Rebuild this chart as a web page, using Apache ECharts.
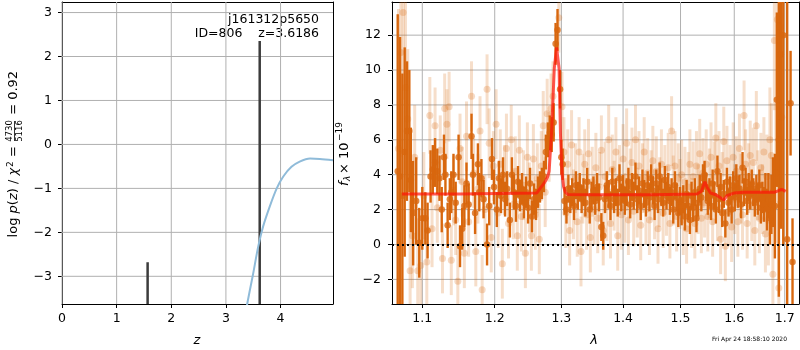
<!DOCTYPE html>
<html lang="en" style="height: 100%">
<head>
  <meta charset="utf-8" />
</head>
<body style="height: 100%; margin: 0">
  <div id="container" style="width: 800px; height: 350px;"></div>
  <script src="https://cdn.jsdelivr.net/npm/echarts@6/dist/echarts.min.js"></script>
  <script>
    // left panel: log p(z)
    var pzZ = [3.30, 3.39, 3.50, 3.59, 3.68, 3.80, 3.93, 4.05, 4.20, 4.35, 4.54, 4.72, 4.96];
    var pzLog = [-4.3, -3.63, -2.93, -2.33, -1.87, -1.42, -1.0, -0.73, -0.51, -0.39, -0.32, -0.33, -0.36];
    var peakZ = [1.567, 3.6186];
    var peakLogP = [-2.68, 2.35];
    var zTicks = [0, 1, 2, 3, 4];
    var pTicks = [-3, -2, -1, 0, 1, 2, 3];

    // right panel: spectrum [lambda, flux, err]
    var darkSpec = [
      [1.068, 4.2, 9], [1.071, 3.9, 8], [1.074, 2.8, 7], [1.077, 5.3, 6], [1.080, 6.5, 4],
      [1.083, 6.5, 3.5], [1.085, 3.7, 3], [1.088, 1.8, 3], [1.092, 2.5, 2.5], [1.096, 0.1, 2],
      [1.100, 1.5, 1.8], [1.104, 1.5, 1.5], [1.107, 0.8, 1.6], [1.111, 3.9, 1.5], [1.114, 4.3, 1.4],
      [1.117, 4.7, 1.4], [1.120, 4.2, 1.3], [1.123, 3.8, 1.3], [1.126, 2.0, 1.3], [1.129, 5.0, 1.3],
      [1.131, 4.0, 1.2], [1.134, 1.1, 1.3], [1.137, 2.6, 1.2], [1.139, 3.0, 1.2], [1.142, 4.0, 1.2],
      [1.145, 2.4, 1.2], [1.149, 5.0, 1.3], [1.151, -0.1, 1.2], [1.154, 0.9, 1.2], [1.157, 2.2, 1.2],
      [1.160, 3.5, 1.2], [1.163, 2.3, 1.2], [1.167, 6.2, 1.3], [1.169, 4.0, 1.2], [1.172, 1.8, 1.2],
      [1.176, 4.6, 1.2], [1.178, 3.0, 1.1], [1.181, 3.8, 1.1], [1.184, 2.6, 1.1], [1.189, 0.0, 1.2],
      [1.192, 2.2, 1.1], [1.196, 4.9, 1.2], [1.199, 3.3, 1.0], [1.203, 2.0, 1.0], [1.206, 3.8, 1.0],
      [1.209, 2.8, 1.0], [1.212, 4.0, 1.0], [1.215, 2.6, 1.0], [1.218, 3.2, 1.0], [1.222, 1.4, 1.0],
      [1.225, 4.0, 1.0], [1.228, 3.0, 1.0], [1.231, 2.2, 0.9], [1.234, 3.6, 0.9], [1.237, 2.8, 0.9],
      [1.240, 3.2, 0.9], [1.243, 2.4, 0.9], [1.246, 3.0, 0.9], [1.249, 2.1, 0.9], [1.252, 3.5, 0.9],
      [1.255, 1.6, 0.9], [1.258, 2.6, 0.9], [1.261, 2.3, 0.9], [1.264, 3.0, 0.9], [1.267, 3.3, 0.9],
      [1.270, 3.5, 0.9], [1.273, 3.9, 0.9], [1.276, 5.3, 1.0], [1.279, 6.0, 1.0], [1.282, 6.4, 1.0],
      [1.285, 6.3, 1.0], [1.288, 7.0, 1.1], [1.291, 11.5, 1.2], [1.294, 12.3, 1.2], [1.298, 8.9, 1.1],
      [1.300, 5.0, 1.0], [1.302, 4.6, 0.9], [1.305, 2.5, 0.8], [1.308, 2.0, 0.8], [1.311, 3.2, 0.8],
      [1.314, 2.6, 0.8], [1.317, 3.0, 0.8], [1.320, 2.2, 0.8], [1.323, 3.4, 0.8], [1.326, 2.8, 0.8],
      [1.329, 3.3, 0.8], [1.332, 2.6, 0.8], [1.335, 3.0, 0.8], [1.338, 2.4, 0.8], [1.341, 3.6, 0.8],
      [1.345, 2.0, 0.8], [1.348, 2.8, 0.8], [1.351, 3.1, 0.8], [1.354, 2.5, 0.8], [1.357, 3.3, 0.8],
      [1.360, 2.7, 0.8], [1.364, 1.0, 0.8], [1.367, 0.5, 0.8], [1.370, 2.6, 0.8], [1.373, 3.4, 0.8],
      [1.376, 2.9, 0.8], [1.379, 2.2, 0.8], [1.382, 3.6, 0.8], [1.385, 2.6, 0.8], [1.388, 3.0, 0.8],
      [1.391, 2.4, 0.8], [1.394, 3.8, 0.8], [1.397, 2.7, 0.8], [1.400, 3.2, 0.8], [1.403, 2.5, 0.8],
      [1.406, 3.0, 0.8], [1.409, 3.6, 0.8], [1.412, 2.3, 0.8], [1.415, 3.3, 0.8], [1.418, 2.8, 0.8],
      [1.421, 3.9, 0.8], [1.424, 2.6, 0.8], [1.427, 3.1, 0.8], [1.430, 2.2, 0.8], [1.433, 3.5, 0.8],
      [1.436, 2.9, 0.8], [1.439, 2.4, 0.8], [1.442, 3.4, 0.8], [1.445, 2.7, 0.8], [1.448, 3.8, 0.8],
      [1.451, 3.1, 0.8], [1.454, 2.2, 0.8], [1.457, 3.5, 0.8], [1.460, 2.6, 0.8], [1.463, 3.9, 0.8],
      [1.466, 3.0, 0.8], [1.469, 2.4, 0.8], [1.472, 3.7, 0.8], [1.475, 2.8, 0.8], [1.478, 3.3, 0.8],
      [1.481, 2.5, 0.8], [1.484, 3.0, 0.8], [1.487, 2.0, 0.8], [1.490, 3.4, 0.8], [1.493, 2.7, 0.8],
      [1.496, 1.8, 0.8], [1.499, 2.5, 0.8], [1.502, 1.9, 0.8], [1.505, 2.6, 0.8], [1.508, 1.6, 0.8],
      [1.511, 2.9, 0.8], [1.514, 2.2, 0.8], [1.517, 1.4, 0.8], [1.520, 2.8, 0.8], [1.523, 2.1, 0.8],
      [1.526, 3.0, 0.8], [1.529, 1.5, 0.8], [1.532, 2.4, 0.8], [1.535, 3.2, 0.8], [1.538, 2.7, 0.8],
      [1.541, 3.8, 0.8], [1.544, 4.0, 0.8], [1.547, 3.3, 0.8], [1.550, 2.5, 0.8], [1.553, 3.0, 0.8],
      [1.556, 2.2, 0.8], [1.559, 3.5, 0.8], [1.562, 2.8, 0.8], [1.565, 2.0, 0.8], [1.568, 4.2, 0.9],
      [1.571, 2.6, 0.8], [1.574, 3.3, 0.8], [1.577, 1.8, 0.8], [1.580, 2.9, 0.8], [1.583, 1.2, 0.8],
      [1.586, 3.6, 0.8], [1.589, 2.4, 0.8], [1.592, 3.1, 0.8], [1.595, 2.0, 0.8], [1.598, 3.4, 0.8],
      [1.601, 2.7, 0.8], [1.604, 3.8, 0.8], [1.607, 2.9, 0.8], [1.610, 3.2, 0.8], [1.613, 2.3, 0.8],
      [1.616, 4.4, 0.9], [1.619, 3.0, 0.8], [1.622, 3.6, 0.8], [1.625, 2.5, 0.8], [1.628, 3.3, 0.8],
      [1.631, 2.8, 0.8], [1.634, 3.5, 0.8], [1.637, 3.0, 0.8], [1.640, 2.4, 0.8], [1.643, 3.2, 0.8],
      [1.646, 2.6, 0.9], [1.649, 3.4, 0.9], [1.652, 2.1, 0.9], [1.655, 2.7, 0.9], [1.658, 2.3, 1.0],
      [1.661, 3.0, 1.1], [1.664, 2.0, 1.2], [1.667, 2.8, 1.3], [1.670, 1.5, 1.5], [1.673, 2.3, 1.7],
      [1.676, 3.0, 2.0], [1.680, 2.2, 3], [1.684, 8.3, 5], [1.688, 6.0, 9], [1.692, 10.9, 10],
      [1.697, 12.0, 12], [1.705, 0.3, 14], [1.712, 8.1, 3], [1.716, -1.0, 2.5]
    ];

    var lightSpec = [
      [1.069, 5.5, 8], [1.072, 11.0, 6], [1.075, 13.3, 5], [1.078, 9.0, 5], [1.081, 7.2, 4],
      [1.084, -1.5, 4], [1.087, 0.5, 3], [1.090, 5.0, 3], [1.094, -1.5, 3], [1.098, -1.2, 2.5],
      [1.102, 2.8, 2.5], [1.106, -1.0, 2.5], [1.110, 7.4, 2.2], [1.113, 0.9, 2.2], [1.117, 6.8, 2.2],
      [1.120, 2.1, 2], [1.124, 5.4, 2], [1.127, -0.8, 2], [1.130, 7.8, 2], [1.133, 6.9, 2],
      [1.136, 7.9, 2], [1.139, -0.9, 2], [1.142, 3.1, 2], [1.145, 1.4, 2], [1.148, -2.1, 2],
      [1.151, 5.5, 2], [1.154, 3.6, 2], [1.157, -0.5, 2], [1.160, 6.2, 2], [1.163, 1.3, 2],
      [1.167, 8.5, 2], [1.170, 4.1, 2], [1.173, -0.4, 2], [1.176, 3.2, 2], [1.179, 6.5, 2],
      [1.182, -2.6, 2], [1.186, 2.0, 2], [1.189, 8.9, 2], [1.192, 5.8, 2], [1.195, 0.4, 2],
      [1.198, 4.5, 2], [1.202, 6.9, 2], [1.205, 1.8, 2], [1.208, 4.6, 2], [1.211, -1.1, 2],
      [1.214, 3.7, 2], [1.217, 5.5, 2], [1.220, 1.2, 2], [1.224, 6.0, 2], [1.227, 2.3, 2],
      [1.230, 4.2, 2], [1.233, 0.5, 2], [1.236, 5.4, 2], [1.239, 1.6, 2], [1.242, 3.4, 2],
      [1.245, -0.5, 2], [1.248, 5.0, 2], [1.251, 2.7, 2], [1.254, 0.5, 2], [1.257, 4.9, 2],
      [1.260, 1.7, 2], [1.263, 3.8, 2], [1.266, 0.3, 2], [1.269, 4.5, 2], [1.272, 6.8, 2],
      [1.275, 3.0, 2], [1.278, 7.5, 2], [1.281, 5.6, 2], [1.284, 7.8, 2], [1.287, 8.5, 2],
      [1.296, 13.0, 2], [1.301, 7.9, 2], [1.304, 5.3, 2], [1.307, 1.8, 2], [1.310, 4.6, 2],
      [1.313, 0.8, 2], [1.316, 5.7, 2], [1.319, 2.3, 2], [1.322, 3.8, 2], [1.325, 1.3, 2],
      [1.328, 5.3, 2], [1.331, -0.4, 2], [1.334, 3.2, 2], [1.337, 4.6, 2], [1.340, 1.7, 2],
      [1.343, 5.2, 2], [1.346, 0.4, 2], [1.349, 3.6, 2], [1.352, 2.0, 2], [1.355, 4.4, 2],
      [1.358, 1.5, 2], [1.361, 3.3, 2], [1.364, 5.4, 2], [1.367, 0.8, 2], [1.370, 3.9, 2],
      [1.373, 2.2, 2], [1.376, 6.0, 2], [1.379, 1.2, 2], [1.382, 4.3, 2], [1.385, 2.8, 2],
      [1.388, 5.3, 2], [1.391, 0.5, 2], [1.394, 3.7, 2], [1.397, 1.7, 2], [1.400, 4.9, 2],
      [1.403, 2.1, 2], [1.406, 5.8, 2], [1.409, 1.4, 2], [1.412, 3.5, 2], [1.415, 4.7, 2],
      [1.418, 1.9, 2], [1.421, 6.0, 2], [1.424, 2.4, 2], [1.427, 4.5, 2], [1.430, 1.1, 2],
      [1.433, 3.8, 2], [1.436, 5.3, 2], [1.439, 2.0, 2], [1.442, 4.1, 2], [1.445, 1.4, 2],
      [1.448, 3.4, 2], [1.451, 4.8, 2], [1.454, 2.3, 2], [1.457, 4.2, 2], [1.460, 0.9, 2],
      [1.463, 3.0, 2], [1.466, 4.6, 2], [1.469, 1.8, 2], [1.472, 3.7, 2], [1.475, 2.5, 2],
      [1.478, 4.4, 2], [1.481, 1.2, 2], [1.484, 6.5, 2], [1.487, 3.1, 2], [1.490, 4.5, 2],
      [1.493, 1.6, 2], [1.496, 3.8, 2], [1.499, 2.9, 2], [1.502, 4.0, 2], [1.505, 1.4, 2],
      [1.508, 3.6, 2], [1.511, 0.9, 2], [1.514, 3.3, 2], [1.517, 4.6, 2], [1.520, 1.8, 2],
      [1.523, 3.9, 2], [1.526, 1.2, 2], [1.529, 4.5, 2], [1.532, 2.6, 2], [1.535, 5.2, 2],
      [1.538, 1.5, 2], [1.541, 4.1, 2], [1.544, 2.4, 2], [1.547, 4.6, 2], [1.550, 1.6, 2],
      [1.553, 3.5, 2], [1.556, 5.0, 2], [1.559, 1.3, 2], [1.562, 3.9, 2], [1.565, 6.1, 2],
      [1.568, 2.2, 2], [1.571, 4.5, 2], [1.574, 0.3, 2], [1.577, 3.3, 2], [1.580, 5.9, 2],
      [1.583, -0.1, 2], [1.586, 4.8, 2], [1.589, 1.9, 2], [1.592, 3.7, 2], [1.595, 1.0, 2],
      [1.598, 5.0, 2], [1.601, 2.6, 2], [1.604, 4.2, 2], [1.607, 1.3, 2], [1.610, 5.5, 2],
      [1.613, 3.2, 2], [1.616, 1.7, 2], [1.619, 7.4, 2], [1.622, 4.6, 2], [1.625, 1.2, 2],
      [1.628, 3.8, 2], [1.631, 5.1, 2], [1.634, 2.2, 2], [1.637, 4.7, 2], [1.640, 0.8, 2],
      [1.643, 6.8, 2], [1.646, 3.4, 2], [1.649, 1.5, 2], [1.652, 4.4, 2], [1.655, 2.6, 2],
      [1.658, 5.3, 2], [1.661, 0.6, 2.2], [1.664, 3.9, 2.4], [1.667, 1.4, 2.6], [1.670, 6.0, 3],
      [1.673, 5.1, 3], [1.676, -1.7, 3], [1.679, 11.7, 4], [1.682, 4.1, 4], [1.685, 12.9, 5],
      [1.688, -2.5, 5], [1.691, 12.5, 6], [1.694, 7.3, 6]
    ];

    var modelLam = [1.0736, 1.15, 1.262, 1.267, 1.272, 1.276, 1.279, 1.281, 1.2846, 1.289, 1.2925,
      1.2964, 1.2986, 1.301, 1.3035, 1.306, 1.31, 1.35, 1.45, 1.53, 1.538, 1.5445, 1.549, 1.555,
      1.565, 1.5806, 1.586, 1.5995, 1.62, 1.68, 1.69, 1.695, 1.702];
    var modelFlux = [2.9, 2.9, 2.95, 3.2, 3.45, 3.67, 3.9, 4.2, 6.3, 10.1, 11.3,
      10.1, 6.3, 4.07, 3.3, 3.0, 2.87, 2.85, 2.85, 2.9, 3.05, 3.6, 3.25, 2.95,
      2.85, 2.55, 2.8, 2.95, 3.0, 3.0, 3.12, 3.15, 3.05];
    var lamTicks = [1.1, 1.2, 1.3, 1.4, 1.5, 1.6, 1.7];
    var fluxTicks = [-2, 0, 2, 4, 6, 8, 10, 12];

    var FONT = 'DejaVu Sans';
    var ORANGE = '#d8670e';
    var GRIDC = '#b0b0b0';

    var dom = document.getElementById('container');
    var myChart = echarts.init(dom, null, { renderer: 'canvas' });

    function minus(v) {
      return String(v).replace('-', '\u2212');
    }

    function axisCommon(ticks, fmt) {
      return {
        axisLine: { show: true, onZero: false, lineStyle: { color: '#000', width: 1 } },
        axisTick: { show: true, length: 4, customValues: ticks, lineStyle: { color: '#000', width: 1 } },
        axisLabel: { customValues: ticks, color: '#000', fontFamily: FONT, fontSize: 12.5, formatter: fmt },
        splitLine: { show: false }
      };
    }

    // frame-only axis for the top / right edge of a panel
    function frameAxis(type, gridIndex, position, min, max) {
      return {
        type: type, gridIndex: gridIndex, position: position, min: min, max: max,
        axisLine: { show: true, onZero: false, lineStyle: { color: '#000', width: 1 } },
        axisTick: { show: false }, axisLabel: { show: false }, splitLine: { show: false }
      };
    }

    // vertical error bars clipped to the grid
    function errBars(color, width) {
      return function (params, api) {
        var x = api.value(0), y = api.value(1), e = api.value(2);
        var p1 = api.coord([x, y - e]);
        var p2 = api.coord([x, y + e]);
        var cs = params.coordSys;
        var top = cs.y, bot = cs.y + cs.height;
        var y1 = Math.min(Math.max(p1[1], top), bot);
        var y2 = Math.min(Math.max(p2[1], top), bot);
        if (y1 === y2) return null;
        return {
          type: 'line',
          shape: { x1: p1[0], y1: y1, x2: p2[0], y2: y2 },
          style: { stroke: color, lineWidth: width }
        };
      };
    }

    // grid lines at the tick values, drawn by a custom series under the data
    function gridLines(idx, xTicks, yTicks) {
      var items = xTicks.map(function (t) { return [t, yTicks[1], 0]; })
        .concat(yTicks.map(function (t) { return [xTicks[1], t, 1]; }));
      return {
        type: 'custom',
        xAxisIndex: idx, yAxisIndex: idx,
        data: items,
        renderItem: function (params, api) {
          var cs = params.coordSys;
          var p = api.coord([api.value(0), api.value(1)]);
          var shape = api.value(2) === 0
            ? { x1: p[0], y1: cs.y, x2: p[0], y2: cs.y + cs.height }
            : { x1: cs.x, y1: p[1], x2: cs.x + cs.width, y2: p[1] };
          return { type: 'line', shape: shape, style: { stroke: GRIDC, lineWidth: 1 } };
        }
      };
    }

    var xLeft = Object.assign({ type: 'value', gridIndex: 0, position: 'bottom', min: 0, max: 4.96 },
      axisCommon(zTicks, function (v) { return minus(v); }));
    var yLeft = Object.assign({ type: 'value', gridIndex: 0, position: 'left', min: -3.63, max: 3.24 },
      axisCommon(pTicks, function (v) { return minus(v); }));
    var xRight = Object.assign({ type: 'log', gridIndex: 1, position: 'bottom', min: 1.0607, max: 1.7294 },
      axisCommon(lamTicks, function (v) { return v.toFixed(1); }));
    var yRight = Object.assign({ type: 'value', gridIndex: 1, position: 'left', min: -3.41, max: 13.9 },
      axisCommon(fluxTicks, function (v) { return minus(v); }));
    xLeft.axisLabel.margin = 8;
    xRight.axisLabel.margin = 8;
    yLeft.axisLabel.margin = 10;
    yRight.axisLabel.margin = 11;

    var option = {
      animation: false,
      grid: [
        { left: 62, top: 2, width: 271, height: 302 },
        { left: 392, top: 2, width: 407, height: 302 }
      ],
      xAxis: [xLeft, xRight,
        frameAxis('value', 0, 'top', 0, 4.96),
        frameAxis('value', 1, 'top', 0, 1)],
      yAxis: [yLeft, yRight,
        frameAxis('value', 0, 'right', 0, 1),
        frameAxis('value', 1, 'right', 0, 1)],
      series: [
        gridLines(0, zTicks, pTicks),
        gridLines(1, lamTicks, fluxTicks),
        {
          type: 'line',
          xAxisIndex: 0, yAxisIndex: 0,
          data: pzZ.map(function (z, i) { return [z, pzLog[i]]; }),
          smooth: 0.3,
          showSymbol: false,
          lineStyle: { color: '#8fbbd9', width: 2 }
        },
        {
          type: 'custom',
          xAxisIndex: 0, yAxisIndex: 0,
          data: peakZ.map(function (z, i) { return [z, peakLogP[i]]; }),
          renderItem: function (params, api) {
            var cs = params.coordSys;
            var p = api.coord([api.value(0), api.value(1)]);
            return {
              type: 'line',
              shape: { x1: p[0], y1: cs.y + cs.height, x2: p[0], y2: p[1] },
              style: { stroke: '#3c3c3c', lineWidth: 2.5 }
            };
          }
        },
        {
          type: 'custom',
          xAxisIndex: 1, yAxisIndex: 1,
          data: lightSpec,
          renderItem: errBars('rgba(216,103,14,0.22)', 3)
        },
        {
          type: 'scatter',
          xAxisIndex: 1, yAxisIndex: 1,
          data: lightSpec.map(function (d) { return [d[0], d[1]]; }),
          symbolSize: 7,
          itemStyle: { color: 'rgba(216,103,14,0.3)' }
        },
        {
          type: 'custom',
          xAxisIndex: 1, yAxisIndex: 1,
          data: darkSpec,
          renderItem: errBars(ORANGE, 2.4)
        },
        {
          type: 'scatter',
          xAxisIndex: 1, yAxisIndex: 1,
          data: darkSpec.map(function (d) { return [d[0], d[1]]; }),
          symbolSize: 6.5,
          itemStyle: { color: ORANGE }
        },
        {
          type: 'line',
          xAxisIndex: 1, yAxisIndex: 1,
          data: modelLam.map(function (l, i) { return [l, modelFlux[i]]; }),
          showSymbol: false,
          lineStyle: { color: 'rgba(255,20,10,0.7)', width: 3 },
          z: 5,
          markLine: {
            silent: true,
            symbol: 'none',
            label: { show: false },
            lineStyle: { color: '#000', type: [2, 3], width: 2 },
            data: [{ yAxis: 0 }]
          }
        }
      ],
      graphic: [
        { type: 'text', x: 319, y: 20, style: { text: 'j161312p5650', font: '12.5px "DejaVu Sans"', fill: '#000', align: 'right', verticalAlign: 'middle' } },
        { type: 'text', x: 319, y: 34, style: { text: 'ID=806    z=3.6186', font: '12.5px "DejaVu Sans"', fill: '#000', align: 'right', verticalAlign: 'middle' } },
        { type: 'text', x: 197, y: 341, style: { text: 'z', font: 'italic 13px "DejaVu Sans"', fill: '#000', align: 'center', verticalAlign: 'middle' } },
        { type: 'text', x: 594, y: 341, style: { text: 'λ', font: 'italic 13px "DejaVu Sans"', fill: '#000', align: 'center', verticalAlign: 'middle' } },
        { type: 'text', x: 787, y: 339, style: { text: 'Fri Apr 24 18:58:10 2020', font: '6px "DejaVu Sans"', fill: '#000', align: 'right', verticalAlign: 'middle' } },
        {
          type: 'group', x: 14, y: 154, rotation: Math.PI / 2,
          children: [
            { type: 'text', x: 12, y: 0, style: {
              text: '{n|log }{i|p}{n|(}{i|z}{n|) / }{i|χ}{s|2}{n| = }', align: 'right', verticalAlign: 'middle',
              rich: {
                n: { font: '13px "DejaVu Sans"', fill: '#000' },
                i: { font: 'italic 13px "DejaVu Sans"', fill: '#000' },
                s: { font: '9px "DejaVu Sans"', fill: '#000', padding: [0, 0, 7, 1] }
              } } },
            { type: 'text', x: 23, y: -4, style: { text: '4730', font: '8.5px "DejaVu Sans"', fill: '#000', align: 'center', verticalAlign: 'middle' } },
            { type: 'line', shape: { x1: 13, y1: 0.5, x2: 33, y2: 0.5 }, style: { stroke: '#000', lineWidth: 0.8 } },
            { type: 'text', x: 23, y: 5.5, style: { text: '5116', font: '8.5px "DejaVu Sans"', fill: '#000', align: 'center', verticalAlign: 'middle' } },
            { type: 'text', x: 35, y: 0, style: { text: ' = 0.92', font: '13px "DejaVu Sans"', fill: '#000', align: 'left', verticalAlign: 'middle' } }
          ]
        },
        {
          type: 'group', x: 345, y: 154, rotation: Math.PI / 2,
          children: [
            { type: 'text', x: -32, y: 0, style: { text: 'f', font: 'italic 13px "DejaVu Sans"', fill: '#000', align: 'left', verticalAlign: 'middle' } },
            { type: 'text', x: -27, y: 3, style: { text: 'λ', font: 'italic 9px "DejaVu Sans"', fill: '#000', align: 'left', verticalAlign: 'middle' } },
            { type: 'text', x: -20, y: 0, style: { text: '× 10', font: '13px "DejaVu Sans"', fill: '#000', align: 'left', verticalAlign: 'middle' } },
            { type: 'text', x: 13, y: -5, style: { text: '\u221219', font: '9px "DejaVu Sans"', fill: '#000', align: 'left', verticalAlign: 'middle' } }
          ]
        }
      ]
    };

    myChart.setOption(option);
    window.addEventListener('resize', myChart.resize);
  </script>
</body>
</html>
